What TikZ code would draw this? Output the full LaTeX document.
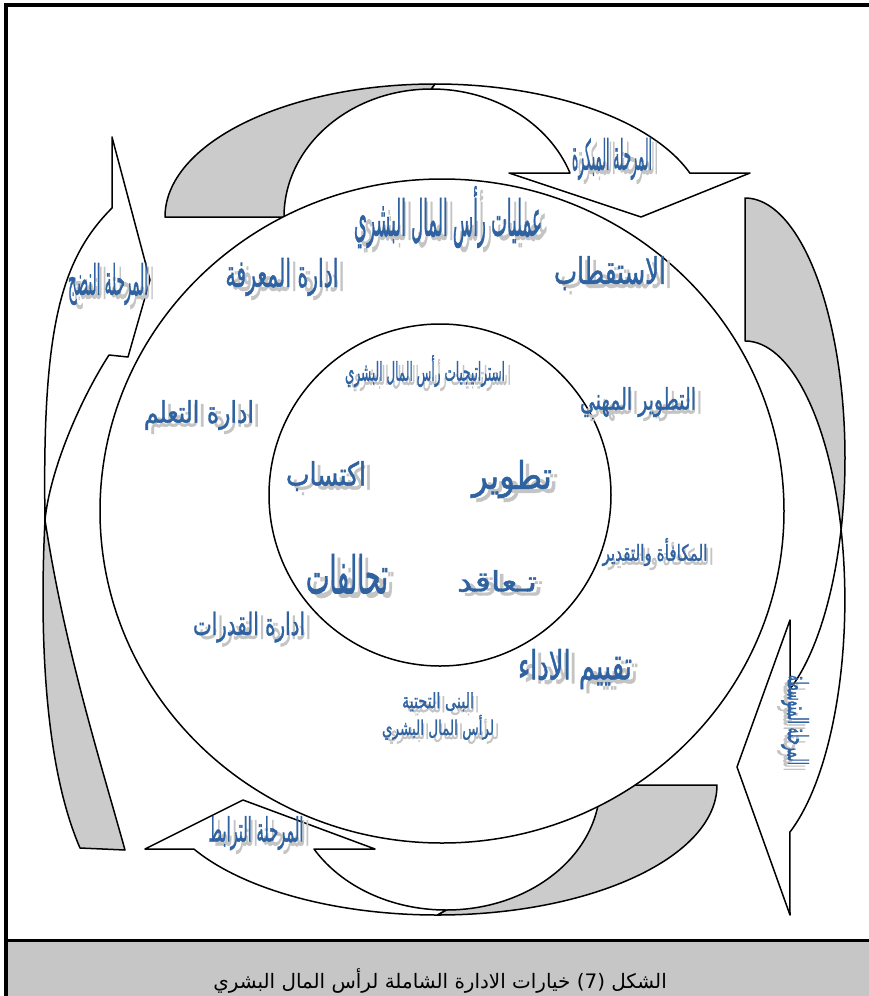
\documentclass[tikz,border=0pt]{standalone}
\usepackage{fontspec}
\newfontfamily\arabicfont[Script=Arabic, FakeBold=1.4]{DejaVu Sans}
\newfontfamily\legendefont[Script=Arabic]{DejaVu Sans}
\TeXXeTstate=1
\usetikzlibrary{positioning}
\definecolor{bleu}{HTML}{2F62A0}
\definecolor{ombre}{HTML}{C4C4C4}
\definecolor{grisdos}{HTML}{CBCBCB}
\definecolor{bande}{HTML}{C6C6C6}
\newlength{\px}
\setlength{\px}{0.3mm}
\tikzset{
  fleche/.style={draw=black, fill=white, line width=0.45mm, line join=round},
  dos/.style={fleche, fill=grisdos},
  cercle/.style={draw=black, fill=white, line width=0.45mm},
  etiq/.style={text=bleu, inner sep=0pt, font=\arabicfont\fontsize{20}{20}\selectfont},
  ombrage/.style={etiq, text=ombre},
  legende/.style={text=black, inner sep=0pt, font=\legendefont\fontsize{17}{20}\selectfont},
}
% {nom}{x}{y}{largeur}{hauteur}{texte}, en pixels
\newcommand{\marque}[6]{%
  \node[ombrage] at (#2+6,#3+4) {\resizebox*{#4\px}{#5\px}{#6}};
  \node[etiq] (#1) at (#2,#3) {\resizebox*{#4\px}{#5\px}{#6}};}

\begin{document}
\begin{tikzpicture}[x=0.3mm, y=-0.3mm]
  \useasboundingbox (0,0) rectangle (869,996);

  % fleche du haut
  \draw[dos] (165,217) arc[start angle=180, end angle=270, x radius=270, y radius=133]
    -- (431.5,89) arc[start angle=270, end angle=180, x radius=147.5, y radius=128] -- cycle;
  \draw[fleche] (435,84) arc[start angle=270, end angle=340.7, x radius=270, y radius=133]
    -- (750,173) -- (641,217) -- (509,173) -- (570,173)
    arc[start angle=339.9, end angle=270, x radius=147.5, y radius=128] -- cycle;

  % fleche de droite
  \draw[dos] (745,198) arc[start angle=-90, end angle=15.96, x radius=100, y radius=260]
    arc[start angle=-15.96, end angle=-90, x radius=100, y radius=260] -- cycle;
  \draw[fleche] (841,528.5) arc[start angle=-15.96, end angle=63.3, x radius=100, y radius=260]
    -- (790,915) -- (737,767) -- (790,620) -- (790,689)
    arc[start angle=63.3, end angle=15.96, x radius=100, y radius=260] -- cycle;

  % fleche du bas
  \draw[dos] (717,785) arc[start angle=0, end angle=90, x radius=279.7, y radius=130]
    -- (446.2,910) arc[start angle=90, end angle=0, x radius=153.8, y radius=125] -- cycle;
  \draw[fleche] (437.3,915) arc[start angle=90, end angle=150.5, x radius=279.7, y radius=130]
    -- (145,849) -- (243,800) -- (375,849) -- (314,849)
    arc[start angle=149.2, end angle=90, x radius=153.8, y radius=125] -- cycle;

  % fleche de gauche
  \draw[dos] (80,848) .. controls (42,760) and (40,620) .. (45,520)
    .. controls (65,650) and (100,760) .. (125,850) -- cycle;
  \draw[fleche] (45,520) .. controls (42,330) and (60,260) .. (112,208)
    -- (112,137) -- (150,280) -- (128,357) -- (109,355)
    .. controls (80,400) and (50,470) .. (45,520) -- cycle;

  % cercles
  \draw[cercle] (442,511) ellipse[x radius=342, y radius=332];
  \draw[cercle] (440,495) circle[radius=171];

  % etiquettes
  \marque{processus}{448}{217}{188}{62}{\beginR عمليات رأس المال البشري\endR}
  \marque{precoce}{612}{159}{80}{42}{\beginR المرحلة المبكرة\endR}
  \marque{attraction}{610}{273}{112}{34}{\beginR الاستقطاب\endR}
  \marque{savoir}{282}{277}{113}{38}{\beginR ادارة المعرفة\endR}
  \marque{maturite}{108}{284}{80}{42}{\beginR المرحلة النضج\endR}
  \marque{strategies}{425}{371}{160}{32}{\beginR استراتيجيات رأس المال البشري\endR}
  \marque{carriere}{638}{402}{116}{30}{\beginR التطوير المهني\endR}
  \marque{apprentissage}{199}{415}{110}{30}{\beginR ادارة التعلم\endR}
  \marque{acquisition}{326}{476}{80}{30}{\beginR اكتساب\endR}
  \marque{developpement}{512}{479}{80}{38}{\beginR تطوير\endR}
  \marque{alliances}{347}{574}{82}{40}{\beginR تحالفات\endR}
  \marque{contrat}{497}{581}{80}{22}{\beginR تـعاقد\endR}
  \marque{recompense}{655}{552}{105}{28}{\beginR المكافأة والتقدير\endR}
  \marque{capacites}{249}{627}{112}{31}{\beginR ادارة القدرات\endR}
  \marque{evaluation}{575}{669}{114}{40}{\beginR تقييم الاداء\endR}
  \marque{liaison}{256}{833}{95}{34}{\beginR المرحلة الترابط\endR}

  \node[ombrage, rotate=-90] at (791,726)
    {\resizebox*{90\px}{28\px}{\beginR المرحلة المتوسطة\endR}};
  \node[etiq, rotate=-90] (intermediaire) at (795,720)
    {\resizebox*{90\px}{28\px}{\beginR المرحلة المتوسطة\endR}};

  \node[ombrage, align=center] at (443,720)
    {\resizebox*{72\px}{19\px}{\beginR البنى التحتية\endR}\\[1mm]
     \resizebox*{112\px}{25\px}{\beginR لرأس المال البشري\endR}};
  \node[etiq, align=center] (infra) at (438,716)
    {\resizebox*{72\px}{19\px}{\beginR البنى التحتية\endR}\\[1mm]
     \resizebox*{112\px}{25\px}{\beginR لرأس المال البشري\endR}};

  % cadre et legende
  \fill[bande] (6,942) rectangle (869,996);
  \draw[line width=0.9mm] (6,940) -- (869,940);
  \draw[line width=1.2mm] (6,996) -- (6,5) -- (869,5);
  \node[legende] (titre) at (440,981)
    {\beginR الشكل \beginL(7)\endL{} خيارات الادارة الشاملة لرأس المال البشري\endR};
\end{tikzpicture}
\end{document}
